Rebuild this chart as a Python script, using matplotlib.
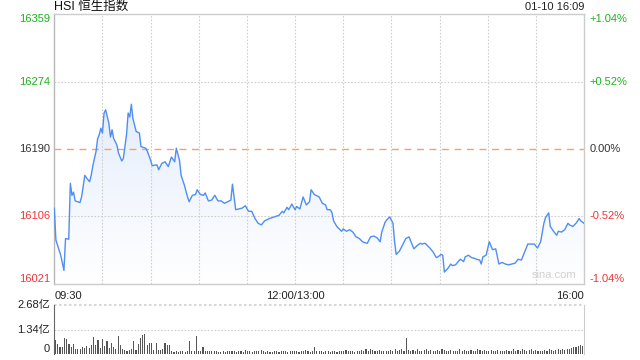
import numpy as np
import matplotlib
matplotlib.use("Agg")
import matplotlib.pyplot as plt
from matplotlib.patches import Polygon
from matplotlib.colors import LinearSegmentedColormap

plt.rcParams['font.family'] = ['Liberation Sans', 'Noto Sans CJK SC', 'DejaVu Sans']

# minutes since 09:30 (lunch break removed) and index level
minutes = [0, 1, 4, 6, 7, 9, 10, 11, 12, 13, 16, 17, 19, 20, 22, 23, 24, 26, 27, 28,
           29, 30, 31, 32, 34, 35, 36, 37, 39, 40, 42, 43, 45, 46, 47, 48, 49, 51, 53, 54,
           57, 58, 60, 61, 63, 64, 65, 67, 69, 71, 73, 75, 76, 78, 79, 81, 83, 84, 86, 88,
           89, 91, 93, 94, 96, 98, 100, 102, 104, 106, 108, 110, 111, 113, 115, 117, 119, 121, 123, 125,
           127, 129, 131, 134, 137, 140, 142, 143, 145, 146, 148, 150, 151, 153, 155, 157, 159, 160, 162, 163,
           165, 167, 169, 170, 172, 173, 174, 176, 177, 179, 180, 182, 184, 186, 188, 190, 192, 193, 195, 197,
           199, 201, 203, 204, 206, 207, 209, 211, 212, 213, 215, 217, 219, 221, 223, 224, 226, 228, 229, 231,
           233, 234, 236, 238, 239, 241, 242, 243, 245, 247, 248, 250, 252, 253, 255, 256, 258, 260, 262, 263,
           265, 266, 267, 269, 271, 273, 275, 277, 279, 281, 283, 285, 287, 289, 291, 293, 295, 297, 299, 301,
           303, 305, 306, 308, 309, 311, 313, 314, 316, 318, 320, 321, 323, 325, 327, 328, 330]
prices = [16116, 16076, 16057, 16038, 16078, 16077, 16147, 16132, 16136, 16125, 16123, 16130, 16157, 16154, 16149, 16157, 16169, 16187, 16203, 16208,
          16216, 16210, 16235, 16239, 16222, 16205, 16214, 16203, 16195, 16185, 16175, 16178, 16208, 16235, 16230, 16246, 16228, 16212, 16210, 16193,
          16191, 16187, 16176, 16169, 16170, 16170, 16164, 16172, 16174, 16168, 16180, 16174, 16191, 16176, 16157, 16145, 16130, 16124, 16132, 16133,
          16139, 16133, 16132, 16135, 16125, 16126, 16132, 16125, 16125, 16122, 16124, 16126, 16146, 16114, 16115, 16116, 16119, 16112, 16112, 16103,
          16097, 16095, 16100, 16103, 16105, 16107, 16112, 16110, 16117, 16114, 16121, 16114, 16118, 16115, 16130, 16120, 16124, 16139, 16133, 16132,
          16130, 16122, 16120, 16114, 16114, 16110, 16100, 16093, 16091, 16087, 16090, 16087, 16089, 16086, 16080, 16078, 16074, 16073, 16072, 16080,
          16081, 16079, 16074, 16086, 16098, 16101, 16105, 16097, 16074, 16058, 16062, 16070, 16078, 16080, 16070, 16065, 16069, 16072, 16071, 16072,
          16068, 16066, 16061, 16054, 16055, 16058, 16057, 16036, 16040, 16046, 16044, 16045, 16050, 16052, 16049, 16055, 16057, 16054, 16053, 16052,
          16051, 16046, 16055, 16057, 16074, 16064, 16065, 16046, 16048, 16046, 16045, 16046, 16047, 16052, 16051, 16061, 16071, 16071, 16071, 16066,
          16074, 16097, 16104, 16110, 16093, 16087, 16082, 16087, 16086, 16089, 16097, 16095, 16093, 16097, 16103, 16100, 16097]

prev_close = 16190
price_ticks = [16359, 16274, 16190, 16106, 16021]
pct_ticks = ['+1.04%', '+0.52%', '0.00%', '-0.52%', '-1.04%']
time_labels = ['09:30', '12:00/13:00', '16:00']

# turnover, 100 million HKD (亿)
volume = [0.75, 0.55, 0.37, 0.37, 0.88, 0.83, 0.55, 0.40, 0.55, 0.29, 0.26, 0.26, 0.37, 0.33, 0.42, 0.33, 0.48, 0.94, 0.51, 0.74,
          0.33, 0.83, 0.42, 0.70, 0.33, 0.61, 0.37, 0.26, 0.97, 0.51, 0.29, 0.24, 0.15, 0.24, 0.29, 0.70, 0.22, 0.55, 0.88, 1.03,
          1.07, 0.51, 0.61, 0.61, 0.24, 0.61, 0.22, 0.24, 0.29, 0.61, 0.51, 0.51, 0.18, 0.11, 0.15, 0.11, 0.15, 0.15, 0.11, 0.15,
          0.70, 0.15, 0.18, 0.97, 0.18, 0.15, 0.37, 0.15, 0.18, 0.15, 0.15, 0.15, 0.15, 0.11, 0.11, 0.15, 0.11, 0.15, 0.15, 0.15,
          0.15, 0.11, 0.15, 0.15, 0.11, 0.22, 0.15, 0.15, 0.11, 0.15, 0.15, 0.18, 0.22, 0.15, 0.11, 0.15, 0.11,
          0.11, 0.18, 0.15, 0.11, 0.15, 0.18, 0.15, 0.11, 0.15, 0.15, 0.18, 0.15, 0.11, 0.15, 0.15, 0.22, 0.15, 0.11, 0.18, 0.39,
          0.15, 0.18, 0.15, 0.11, 0.15, 0.15, 0.11, 0.15, 0.18, 0.11, 0.15, 0.15, 0.18, 0.22, 0.15, 0.18, 0.15, 0.11, 0.18, 0.15,
          0.22, 0.15, 0.25, 0.18, 0.26, 0.22, 0.15, 0.18, 0.22, 0.15, 0.15, 0.18, 0.15, 0.22, 0.15, 0.26, 0.18, 0.22, 0.30, 0.18,
          0.90, 0.22, 0.18, 0.22, 0.15, 0.26, 0.18, 0.15, 0.22, 0.26, 0.18, 0.22, 0.18, 0.15, 0.22, 0.18, 0.26, 0.22, 0.18, 0.15,
          0.22, 0.18, 0.15, 0.18, 0.26, 0.18, 0.22, 0.15, 0.18, 0.22, 0.18, 0.15, 0.26, 0.22, 0.18, 0.22, 0.15, 0.18, 0.22, 0.15,
          0.18, 0.22, 0.18, 0.15, 0.18, 0.22, 0.15, 0.18, 0.26, 0.18, 0.22, 0.18, 0.26, 0.22, 0.15, 0.22, 0.26, 0.18, 0.22, 0.18,
          0.15, 0.18, 0.22, 0.18, 0.26, 0.22, 0.18, 0.22, 0.30, 0.22, 0.26, 0.22, 0.30, 0.26, 0.33, 0.37, 0.40, 0.45, 0.48, 0.45]
vol_ticks = [0, 1.34, 2.68]
vol_labels = ['0', '1.34亿', '2.68亿']

GREEN = '#1db31d'
RED = '#f0353a'
GRID = '#cfcfcf'
LINE = '#4f8ef2'

fig = plt.figure(figsize=(6.4, 3.6), dpi=100)
ax = fig.add_axes([54.3 / 640, 1 - 284 / 360, (584 - 54.3) / 640, 270 / 360])
axv = fig.add_axes([54.3 / 640, 1 - 354 / 360, (584 - 54.3) / 640, 49 / 360])

x_end = 330
lo, hi = price_ticks[-1], price_ticks[0]

# gradient fill under the line
t = np.array(minutes, dtype=float)
p = np.array(prices, dtype=float)
verts = np.vstack([np.column_stack([t, p]), [[t[-1], lo], [t[0], lo]]])
poly = Polygon(verts, closed=True, facecolor='none', edgecolor='none')
ax.add_patch(poly)
cmap = LinearSegmentedColormap.from_list('fill', ['#ffffff', '#d8e5fb'])
grad = np.linspace(0, 1, 256).reshape(-1, 1)
img = ax.imshow(grad, extent=[0, x_end, lo, hi], origin='lower', aspect='auto', cmap=cmap, zorder=1)
img.set_clip_path(poly)
ax.plot(t, p, color=LINE, lw=1.0, zorder=3)

ax.set_xlim(0, x_end)
ax.set_ylim(lo, hi)
for v in price_ticks[1:-1]:
    if v == prev_close:
        ax.axhline(v, color='#f5a26a', lw=1.0, ls=(0, (5, 4)), zorder=2)
    else:
        ax.axhline(v, color=GRID, lw=0.8, ls=(0, (1.5, 1.5)), zorder=2)
for m in range(30, x_end, 30):
    ax.axvline(m, color=GRID, lw=0.8, ls=(0, (1.5, 1.5)), zorder=2)
ax.set_xticks([])
ax.set_yticks([])
for s in ax.spines.values():
    s.set_color('#cccccc')
    s.set_linewidth(1.0)
ax.spines['left'].set_color('#b8b8b8')

ytr = ax.get_yaxis_transform()
for i, (v, lab) in enumerate(zip(price_ticks, pct_ticks)):
    c = GREEN if v > prev_close else (RED if v < prev_close else '#333333')
    va = 'top' if i == 0 else ('bottom' if i == len(price_ticks) - 1 else 'center')
    ax.text(-0.008, v, str(v), transform=ytr, ha='right', va=va, color=c, fontsize=8)
    ax.text(1.01, v, lab, transform=ytr, ha='left', va=va, color=c, fontsize=8)

xtr = ax.get_xaxis_transform()
ax.text(0, -0.025, time_labels[0], transform=xtr, ha='left', va='top', fontsize=8, color='#222222')
ax.text(150, -0.025, time_labels[1], transform=xtr, ha='center', va='top', fontsize=8, color='#222222')
ax.text(x_end, -0.025, time_labels[2], transform=xtr, ha='right', va='top', fontsize=8, color='#222222')
ax.text(0.985, 0.015, 'sina.com', transform=ax.transAxes, ha='right', va='bottom', fontsize=8, color='#d0d0d0')

fig.text(54.3 / 640, 1 - 7 / 360, 'HSI 恒生指数', ha='left', va='center', fontsize=9, color='#111111')
fig.text(584 / 640, 1 - 7 / 360, '01-10 16:09', ha='right', va='center', fontsize=8, color='#222222')

# volume panel
vx = np.linspace(0.8, x_end - 0.8, len(volume))
axv.bar(vx, volume, width=0.7, color='#555555', zorder=3)
axv.set_xlim(0, x_end)
axv.set_ylim(0, vol_ticks[-1])
axv.axhline(vol_ticks[1], color=GRID, lw=0.8, ls=(0, (1.5, 1.5)))
axv.set_xticks([])
axv.set_yticks([])
for s in ['top', 'bottom']:
    axv.spines[s].set_visible(False)
axv.axhline(vol_ticks[2], color=GRID, lw=1.2, ls=(0, (1.5, 1.5)), clip_on=False)
axv.spines['left'].set_color('#666666')
axv.spines['right'].set_color('#cccccc')
vtr = axv.get_yaxis_transform()
for v, lab in zip(vol_ticks, vol_labels):
    va = 'bottom' if v == 0 else 'center'
    axv.text(-0.008, v, lab, transform=vtr, ha='right', va=va, fontsize=8, color='#222222')

fig.savefig('out.png', dpi=100, facecolor='white')
